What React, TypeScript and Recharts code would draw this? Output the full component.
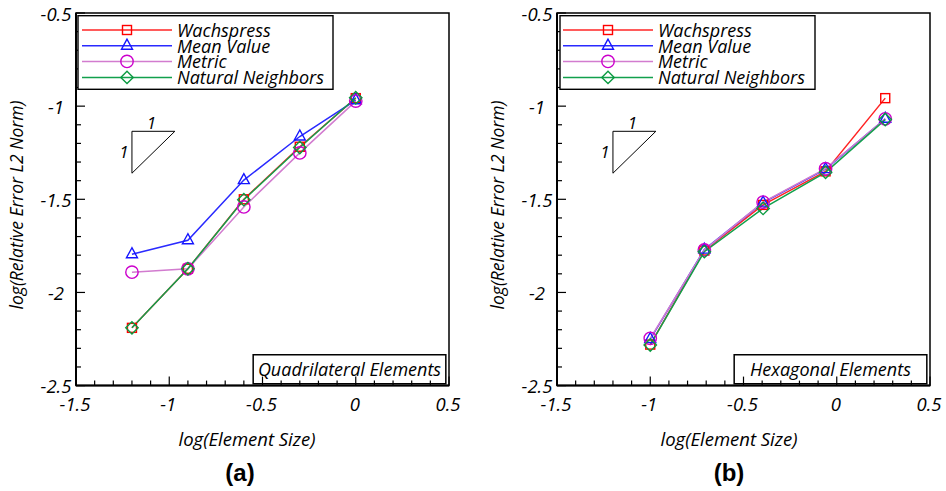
import React from 'react';
import { LineChart, Line, XAxis, YAxis, ReferenceArea, ReferenceLine, ReferenceDot } from 'recharts';

// ---------- data ----------
const SERIES_NAMES = ['Wachspress', 'Mean Value', 'Metric', 'Natural Neighbors'];

const QUAD_X = [-1.2, -0.9, -0.6, -0.3, 0];
const QUAD_WACHSPRESS = [-2.19, -1.873, -1.5, -1.218, -0.957];
const QUAD_MEAN_VALUE = [-1.795, -1.72, -1.397, -1.163, -0.968];
const QUAD_METRIC = [-1.891, -1.873, -1.541, -1.251, -0.973];
const QUAD_NATURAL = [-2.19, -1.873, -1.502, -1.222, -0.955];

const HEX_X = [-1.0, -0.71, -0.395, -0.06, 0.26];
const HEX_WACHSPRESS = [-2.28, -1.775, -1.53, -1.35, -0.957];
const HEX_MEAN_VALUE = [-2.25, -1.77, -1.518, -1.338, -1.068];
const HEX_METRIC = [-2.246, -1.772, -1.515, -1.336, -1.068];
const HEX_NATURAL = [-2.282, -1.781, -1.549, -1.355, -1.072];

const X_TICKS = [-1.5, -1.4, -1.3, -1.2, -1.1, -1, -0.9, -0.8, -0.7, -0.6, -0.5, -0.4, -0.3, -0.2, -0.1, 0, 0.1, 0.2, 0.3, 0.4, 0.5];
const Y_TICKS = [-2.5, -2.4, -2.3, -2.2, -2.1, -2, -1.9, -1.8, -1.7, -1.6, -1.5, -1.4, -1.3, -1.2, -1.1, -1, -0.9, -0.8, -0.7, -0.6, -0.5];
const X_DOMAIN = [-1.5, 0.5];
const Y_DOMAIN = [-2.5, -0.5];

// slope triangle (data coordinates) and annotation box
const TRI_X = [-1.2, -0.97];
const TRI_Y = [-1.135, -1.36];
const BOX_X = [-0.55, 0.483];
const BOX_Y = [-2.49, -2.335];

const X_TITLE = 'log(Element Size)';
const Y_TITLE = 'log(Relative Error L2 Norm)';

// ---------- styles ----------
const FONT = '"Open Sans", "Noto Sans", sans-serif';
const KEYS = ['w', 'mv', 'me', 'nn'];
const STYLES = [
  { line: '#ff2424', marker: '#ff0000', shape: 'square' },
  { line: '#2a2aff', marker: '#1515ff', shape: 'triangle' },
  { line: '#d27ccf', marker: '#cc00cc', shape: 'circle' },
  { line: '#12a04c', marker: '#0a9a40', shape: 'diamond' },
];

function Marker({ shape, cx, cy, color }: any) {
  const sw = 1.4;
  if (shape === 'square')
    return <rect x={cx - 4.5} y={cy - 4.5} width={9} height={9} fill="none" stroke={color} strokeWidth={sw} />;
  if (shape === 'triangle')
    return <polygon points={`${cx},${cy - 6.5} ${cx - 5.5},${cy + 3.5} ${cx + 5.5},${cy + 3.5}`} fill="none" stroke={color} strokeWidth={sw} />;
  if (shape === 'circle')
    return <circle cx={cx} cy={cy} r={6.2} fill="none" stroke={color} strokeWidth={sw} />;
  return <polygon points={`${cx},${cy - 6.2} ${cx + 6.2},${cy} ${cx},${cy + 6.2} ${cx - 6.2},${cy}`} fill="none" stroke={color} strokeWidth={sw} />;
}

const isMajor = (v: number) => Math.abs(v * 2 - Math.round(v * 2)) < 1e-6;
const fmt = (v: number) => String(Math.round(v * 10) / 10);
const TICK_FONT = 18.5;

const XTick = (props: any) => {
  const { x, y, payload } = props;
  const v = payload.value;
  const major = isMajor(v);
  return (
    <g>
      <line x1={x} x2={x} y1={y} y2={y - (major ? 9 : 5)} stroke="#000" strokeWidth={1.2} />
      {major && (
        <text x={x - 1} y={y + 18} textAnchor="middle" dominantBaseline="central"
          style={{ fontFamily: FONT, fontStyle: 'italic', fontSize: TICK_FONT }} fill="#000">{fmt(v)}</text>
      )}
    </g>
  );
};

const YTick = (props: any) => {
  const { x, y, payload } = props;
  const v = payload.value;
  const major = isMajor(v);
  return (
    <g>
      <line x1={x} x2={x + (major ? 9 : 5)} y1={y} y2={y} stroke="#000" strokeWidth={1.2} />
      {major && (
        <text x={x - 20} y={y} textAnchor="middle" dominantBaseline="central"
          style={{ fontFamily: FONT, fontStyle: 'italic', fontSize: TICK_FONT }} fill="#000">{fmt(v)}</text>
      )}
    </g>
  );
};

function buildRows(xs: number[], a: number[], b: number[], c: number[], d: number[]) {
  return xs.map((x, i) => ({ x, w: a[i], mv: b[i], me: c[i], nn: d[i] }));
}

const QUAD_ROWS = buildRows(QUAD_X, QUAD_WACHSPRESS, QUAD_MEAN_VALUE, QUAD_METRIC, QUAD_NATURAL);
const HEX_ROWS = buildRows(HEX_X, HEX_WACHSPRESS, HEX_MEAN_VALUE, HEX_METRIC, HEX_NATURAL);

function Panel({ rows, caption, margin, width }: any) {
  return (
    <LineChart width={width} height={491} data={rows} margin={margin}>
      <XAxis dataKey="x" type="number" domain={X_DOMAIN} ticks={X_TICKS} interval={0}
        allowDataOverflow height={30} tickSize={0} tickMargin={0} tickLine={false}
        axisLine={{ stroke: '#000', strokeWidth: 2 }} tick={<XTick />} />
      <YAxis type="number" domain={Y_DOMAIN} ticks={Y_TICKS} interval={0}
        allowDataOverflow width={60} tickSize={0} tickMargin={0} tickLine={false}
        axisLine={{ stroke: '#000', strokeWidth: 2 }} tick={<YTick />} />
      <ReferenceArea x1={X_DOMAIN[0]} x2={X_DOMAIN[1]} y1={Y_DOMAIN[0]} y2={Y_DOMAIN[1]}
        fill="none" stroke="#000" strokeWidth={1.5} fillOpacity={0} />
      <ReferenceLine segment={[{ x: TRI_X[0], y: TRI_Y[0] }, { x: TRI_X[1], y: TRI_Y[0] }]} stroke="#000" strokeWidth={1} />
      <ReferenceLine segment={[{ x: TRI_X[0], y: TRI_Y[0] }, { x: TRI_X[0], y: TRI_Y[1] }]} stroke="#000" strokeWidth={1} />
      <ReferenceLine segment={[{ x: TRI_X[1], y: TRI_Y[0] }, { x: TRI_X[0], y: TRI_Y[1] }]} stroke="#000" strokeWidth={1} />
      <ReferenceDot x={(TRI_X[0] + TRI_X[1]) / 2} y={TRI_Y[0]} r={0}
        shape={(p: any) => (
          <text x={p.cx - 2} y={p.cy - 9} textAnchor="middle" dominantBaseline="central"
            style={{ fontFamily: FONT, fontStyle: 'italic', fontSize: 17 }} fill="#000">1</text>
        )} />
      <ReferenceDot x={TRI_X[0]} y={(TRI_Y[0] + TRI_Y[1]) / 2} r={0}
        shape={(p: any) => (
          <text x={p.cx - 8} y={p.cy - 1} textAnchor="middle" dominantBaseline="central"
            style={{ fontFamily: FONT, fontStyle: 'italic', fontSize: 17 }} fill="#000">1</text>
        )} />
      {KEYS.map((k, si) => (
        <Line key={k} dataKey={k} type="linear" stroke={STYLES[si].line} strokeWidth={1.5}
          isAnimationActive={false}
          dot={(p: any) => <Marker key={`${k}-${p.index}`} shape={STYLES[si].shape} cx={p.cx} cy={p.cy} color={STYLES[si].marker} />}
          activeDot={false} />
      ))}
      <ReferenceArea x1={BOX_X[0]} x2={BOX_X[1]} y1={BOX_Y[0]} y2={BOX_Y[1]}
        fill="#fff" fillOpacity={1} stroke="#000" strokeWidth={1.5}
        label={{ value: caption, position: 'center', fill: '#000', fontSize: 18, fontStyle: 'italic', fontFamily: FONT }} />
    </LineChart>
  );
}

function LegendBox({ left, lineX0, lineX1, markX, textX }: any) {
  const rowsY = [30, 45.7, 61.4, 77.4];
  return (
    <g>
      <rect x={left} y={15.7} width={255} height={73.6} fill="#fff" stroke="#000" strokeWidth={1.4} />
      {SERIES_NAMES.map((name, i) => (
        <g key={name}>
          <line x1={lineX0} x2={lineX1} y1={rowsY[i]} y2={rowsY[i]} stroke={STYLES[i].line} strokeWidth={1.5} />
          <Marker shape={STYLES[i].shape} cx={markX} cy={rowsY[i]} color={STYLES[i].marker} />
          <text x={textX} y={rowsY[i]} dominantBaseline="central"
            style={{ fontFamily: FONT, fontStyle: 'italic', fontSize: 18 }} fill="#000">{name}</text>
        </g>
      ))}
    </g>
  );
}

export default function App() {
  const xTitleStyle = { fontFamily: FONT, fontStyle: 'italic', fontSize: 18.5 } as any;
  const yTitleStyle = { fontFamily: FONT, fontStyle: 'italic', fontSize: 17.5 } as any;
  const capStyle = { fontFamily: '"Liberation Sans", Arial, sans-serif', fontWeight: 700, fontSize: 24 } as any;
  return (
    <div style={{ position: 'absolute', left: 0, top: 0, width: 946, height: 491, background: '#fff', overflow: 'hidden' }}>
      <div style={{ position: 'absolute', left: 0, top: 0 }}>
        <Panel rows={QUAD_ROWS} caption="Quadrilateral Elements" width={470}
          margin={{ top: 13, right: 21, left: 16, bottom: 75.4 }} />
      </div>
      <div style={{ position: 'absolute', left: 470, top: 0 }}>
        <Panel rows={HEX_ROWS} caption="Hexagonal Elements" width={476}
          margin={{ top: 13, right: 16, left: 27, bottom: 75.4 }} />
      </div>
      <svg width={946} height={491} style={{ position: 'absolute', left: 0, top: 0, pointerEvents: 'none' }}>
        <LegendBox left={78} lineX0={82} lineX1={172} markX={127} textX={177} />
        <LegendBox left={560} lineX0={563} lineX1={653} markX={608} textX={658} />
        <text x={247} y={438} textAnchor="middle" dominantBaseline="central" style={xTitleStyle} fill="#000">{X_TITLE}</text>
        <text x={729} y={438} textAnchor="middle" dominantBaseline="central" style={xTitleStyle} fill="#000">{X_TITLE}</text>
        <text transform="translate(16,205) rotate(-90)" textAnchor="middle" dominantBaseline="central" style={yTitleStyle} fill="#000">{Y_TITLE}</text>
        <text transform="translate(497,205) rotate(-90)" textAnchor="middle" dominantBaseline="central" style={yTitleStyle} fill="#000">{Y_TITLE}</text>
        <text x={240} y={472} textAnchor="middle" dominantBaseline="central" style={capStyle} fill="#000">(a)</text>
        <text x={729} y={472} textAnchor="middle" dominantBaseline="central" style={capStyle} fill="#000">(b)</text>
      </svg>
    </div>
  );
}
